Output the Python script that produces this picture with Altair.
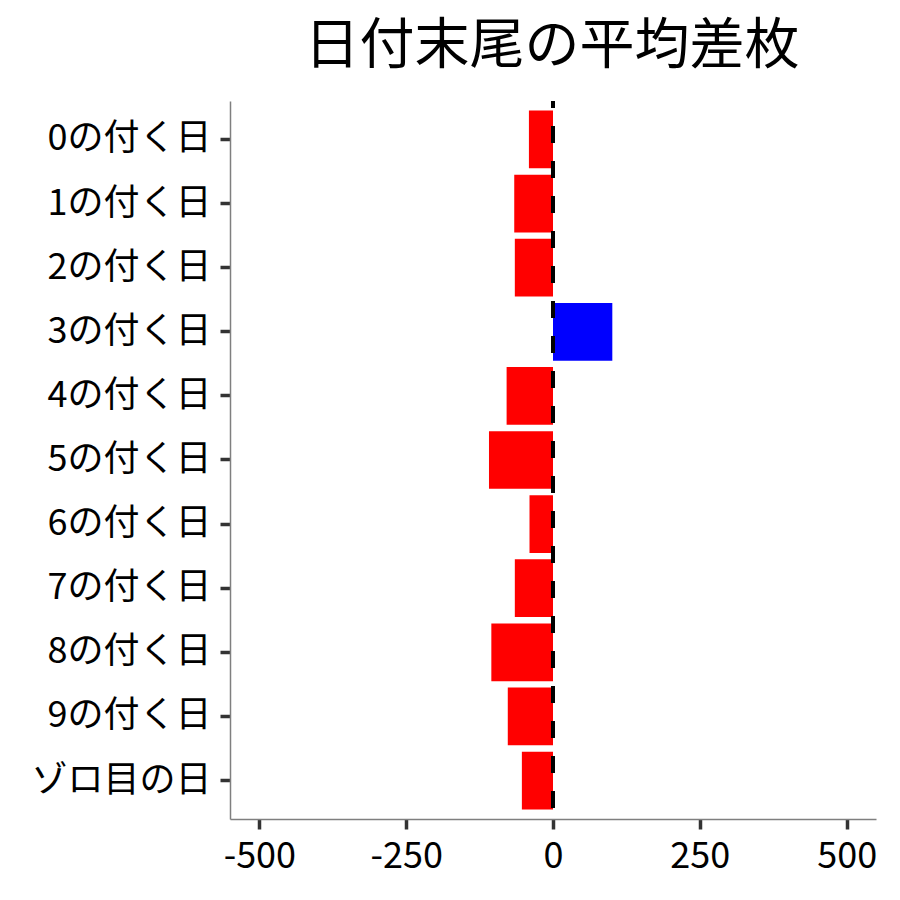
import altair as alt
import pandas as pd

categories = ["0の付く日", "1の付く日", "2の付く日", "3の付く日", "4の付く日",
              "5の付く日", "6の付く日", "7の付く日", "8の付く日", "9の付く日", "ゾロ目の日"]
values = [-41, -66, -65, 101, -79, -109, -40, -65, -105, -77, -53]
tick_values = [-500, -250, 0, 250, 500]

df = pd.DataFrame({
    "category": categories,
    "value": values,
    "sign": ["neg" if v < 0 else "pos" for v in values],
})

FONT = "Noto Sans CJK JP"

bars = alt.Chart(df).mark_bar().encode(
    x=alt.X("value:Q",
            scale=alt.Scale(domain=[-550, 550], nice=False, zero=False),
            axis=alt.Axis(values=tick_values, title=None, grid=False,
                          labelExpr="'' + datum.value",
                          labelFontSize=36, labelFont=FONT, labelColor="black",
                          labelPadding=10, tickSize=10, tickWidth=3.5, tickColor="#333333",
                          domainColor="#7f7f7f", domainWidth=1.5)),
    y=alt.Y("category:N", sort=categories,
            scale=alt.Scale(paddingInner=0.1, paddingOuter=0.15),
            axis=alt.Axis(title=None, labelFontSize=36, labelFont=FONT, labelColor="black",
                          labelLimit=400, labelPadding=9, tickSize=10, tickWidth=3.5,
                          tickColor="#333333", domainColor="#7f7f7f", domainWidth=1.5)),
    color=alt.Color("sign:N", scale=alt.Scale(domain=["neg", "pos"], range=["#FF0000", "#0000FF"]),
                    legend=None),
)

rule = alt.Chart(pd.DataFrame({"x": [0]})).mark_rule(
    color="black", strokeWidth=4, strokeDash=[17, 18], strokeDashOffset=10
).encode(x="x:Q")

chart = alt.layer(bars, rule).properties(
    width=646, height=718,
    title=alt.TitleParams("日付末尾の平均差枚", fontSize=55, font=FONT, fontWeight="normal",
                          anchor="middle", baseline="alphabetic", offset=37, dy=56, dx=-1,
                          color="black"),
    autosize=alt.AutoSizeParams(type="none"),
    padding={"left": 222, "top": 93, "right": 16, "bottom": 73},
).configure(font=FONT).configure_view(stroke=None)

chart.save("out.html", embed_options={"renderer": "svg", "actions": False})
